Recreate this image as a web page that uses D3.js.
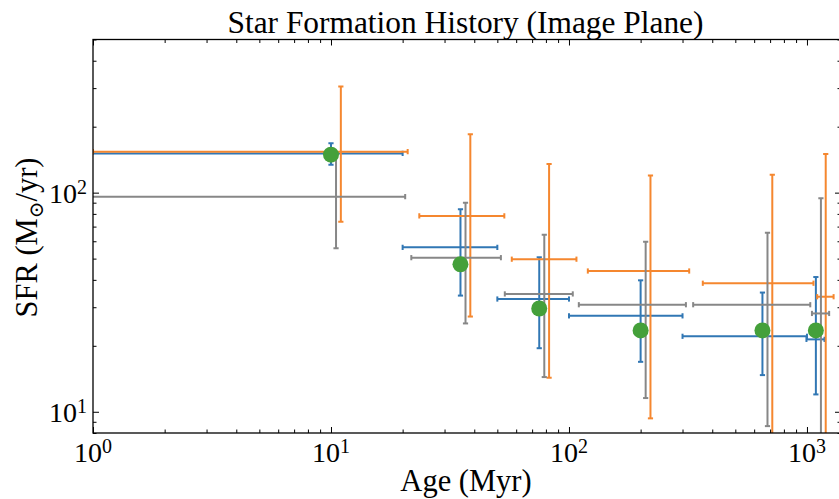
<!DOCTYPE html>
<html>
<head>
<meta charset="utf-8">
<script src="https://cdn.jsdelivr.net/npm/d3@7"></script>
<style>
  html, body { margin: 0; padding: 0; background: #fff; }
  svg { display: block; }
  text { font-family: "Liberation Serif", "Times New Roman", serif; fill: #000; }
</style>
</head>
<body>
<svg id="chart" width="839" height="499"></svg>
<script>
// Age bins (Myr): centre and half-width of each bin
const ages = [10, 35, 75, 200, 650, 1090];
const ageHalfWidths = [10, 15, 25, 100, 350, 95];

// Run A (blue): SFR with lower / upper bounds, M_sun/yr
const sfrA = [151, 56.3, 32.7, 27.4, 22.1, 21.4];
const sfrALow = [134, 33.9, 19.5, 16.9, 14.7, 12.0];
const sfrAHigh = [168, 84.0, 50.7, 39.8, 35.0, 41.2];

// Run B (orange)
const sfrB = [153.9, 78.3, 49.7, 43.9, 38.6, 33.5];
const sfrBLow = [73.7, 27.2, 14.3, 9.33, 4, 4];
const sfrBHigh = [304.8, 184.8, 135.2, 119.6, 120.8, 150.2];

// Run C (grey)
const sfrC = [95.9, 50.5, 34.5, 30.8, 30.8, 28.1];
const sfrCLow = [55.7, 25.3, 14.4, 11.55, 8.6, 4];
const sfrCHigh = [150, 90.0, 64.3, 59.7, 65.7, 94.3];

// Reference values (green points)
const sfrRef = [149, 47.1, 29.6, 23.5, 23.5, 23.5];

// Axis ticks
const xMajorTicks = [1, 10, 100, 1000];
const xTickExponents = ["0", "1", "2", "3"];
const yMajorTicks = [10, 100];
const yTickExponents = ["1", "2"];

const svg = d3.select("#chart");
const plotLeft = 93, plotRight = 841, plotTop = 39.5, plotBottom = 433;

const x = d3.scaleLog().domain([1, 1390]).range([plotLeft, plotRight]);
const y = d3.scaleLog().domain([8, 500]).range([plotBottom, plotTop]);

svg.append("defs").append("clipPath").attr("id", "plotClip")
  .append("rect")
  .attr("x", plotLeft).attr("y", plotTop)
  .attr("width", plotRight - plotLeft).attr("height", plotBottom - plotTop);

const plot = svg.append("g").attr("clip-path", "url(#plotClip)");

const series = [
  { name: "A", color: "#3177b4", dodge: 1.0,  v: sfrA, lo: sfrALow, hi: sfrAHigh },
  { name: "B", color: "#f5872f", dodge: 1.1,  v: sfrB, lo: sfrBLow, hi: sfrBHigh },
  { name: "C", color: "#878787", dodge: 1.05, v: sfrC, lo: sfrCLow, hi: sfrCHigh }
];

const cap = 2.6;
const safeX = v => x(Math.max(v, 1e-3));

series.forEach(s => {
  const g = plot.append("g")
    .attr("stroke", s.color).attr("stroke-width", 2).attr("fill", "none");
  ages.forEach((a, i) => {
    const xc = a * s.dodge;
    const x0 = safeX(xc - ageHalfWidths[i]);
    const x1 = safeX(xc + ageHalfWidths[i]);
    const yv = y(s.v[i]);
    const yl = y(s.lo[i]);
    const yh = y(s.hi[i]);
    const px = x(xc);
    // horizontal (age) error bar with caps
    g.append("line").attr("x1", x0).attr("x2", x1).attr("y1", yv).attr("y2", yv);
    g.append("line").attr("x1", x0).attr("x2", x0).attr("y1", yv - cap).attr("y2", yv + cap);
    g.append("line").attr("x1", x1).attr("x2", x1).attr("y1", yv - cap).attr("y2", yv + cap);
    // vertical (SFR) error bar with caps
    g.append("line").attr("x1", px).attr("x2", px).attr("y1", yl).attr("y2", yh);
    g.append("line").attr("x1", px - cap).attr("x2", px + cap).attr("y1", yl).attr("y2", yl);
    g.append("line").attr("x1", px - cap).attr("x2", px + cap).attr("y1", yh).attr("y2", yh);
  });
});

plot.append("g").selectAll("circle")
  .data(ages.map((a, i) => ({ a, v: sfrRef[i] })))
  .join("circle")
  .attr("cx", d => x(d.a))
  .attr("cy", d => y(d.v))
  .attr("r", 8)
  .attr("fill", "#44a03a");

// Axes: inward ticks on all four sides
const isPow10 = v => Math.abs(Math.log10(v) - Math.round(Math.log10(v))) < 1e-9;
const xMinor = x.ticks().filter(v => !isPow10(v));
const yMinor = y.ticks().filter(v => !isPow10(v));

function styleAxis(g) {
  g.select(".domain").remove();
  g.selectAll("line").attr("stroke", "#000").attr("stroke-width", 1);
  g.selectAll("text").remove();
}

const majorLen = 6, minorLen = 3.5;

svg.append("g").attr("transform", `translate(0,${plotBottom})`)
  .call(d3.axisBottom(x).tickValues(xMajorTicks).tickSizeInner(-majorLen).tickSizeOuter(0)).call(styleAxis);
svg.append("g").attr("transform", `translate(0,${plotBottom})`)
  .call(d3.axisBottom(x).tickValues(xMinor).tickSizeInner(-minorLen).tickSizeOuter(0)).call(styleAxis);
svg.append("g").attr("transform", `translate(0,${plotTop})`)
  .call(d3.axisTop(x).tickValues(xMajorTicks).tickSizeInner(-majorLen).tickSizeOuter(0)).call(styleAxis);
svg.append("g").attr("transform", `translate(0,${plotTop})`)
  .call(d3.axisTop(x).tickValues(xMinor).tickSizeInner(-minorLen).tickSizeOuter(0)).call(styleAxis);
svg.append("g").attr("transform", `translate(${plotLeft},0)`)
  .call(d3.axisLeft(y).tickValues(yMajorTicks).tickSizeInner(-majorLen).tickSizeOuter(0)).call(styleAxis);
svg.append("g").attr("transform", `translate(${plotLeft},0)`)
  .call(d3.axisLeft(y).tickValues(yMinor).tickSizeInner(-minorLen).tickSizeOuter(0)).call(styleAxis);
svg.append("g").attr("transform", `translate(${plotRight},0)`)
  .call(d3.axisRight(y).tickValues(yMajorTicks).tickSizeInner(-majorLen).tickSizeOuter(0)).call(styleAxis);
svg.append("g").attr("transform", `translate(${plotRight},0)`)
  .call(d3.axisRight(y).tickValues(yMinor).tickSizeInner(-minorLen).tickSizeOuter(0)).call(styleAxis);

// Frame
svg.append("rect")
  .attr("x", plotLeft).attr("y", plotTop)
  .attr("width", plotRight - plotLeft).attr("height", plotBottom - plotTop)
  .attr("fill", "none").attr("stroke", "#000").attr("stroke-width", 1.3);

// Tick labels as powers of ten
const tickFont = 28, supFont = 20;
function powerLabel(sel, exp) {
  sel.append("tspan").text("10");
  sel.append("tspan").attr("dy", -9).attr("font-size", supFont).text(exp);
}
xMajorTicks.forEach((v, i) => {
  const t = svg.append("text")
    .attr("x", x(v)).attr("y", 461.5)
    .attr("text-anchor", "middle").attr("font-size", tickFont);
  powerLabel(t, xTickExponents[i]);
});
yMajorTicks.forEach((v, i) => {
  const t = svg.append("text")
    .attr("x", plotLeft - 6).attr("y", y(v) + 10)
    .attr("text-anchor", "end").attr("font-size", tickFont);
  powerLabel(t, yTickExponents[i]);
});

// Title and axis labels
svg.append("text")
  .attr("x", 465.5).attr("y", 33)
  .attr("text-anchor", "middle").attr("font-size", 31.4)
  .text("Star Formation History (Image Plane)");

svg.append("text")
  .attr("x", 466).attr("y", 491)
  .attr("text-anchor", "middle").attr("font-size", 30.5)
  .text("Age (Myr)");

const yLabel = svg.append("text")
  .attr("transform", "translate(37,237.5) rotate(-90)")
  .attr("text-anchor", "middle").attr("font-size", 30.5);
yLabel.append("tspan").text("SFR (M");
yLabel.append("tspan").attr("dy", 6).attr("font-size", 20)
  .style("font-family", "'DejaVu Serif', serif").text("\u2299");
yLabel.append("tspan").attr("dy", -6).text("/yr)");
</script>
</body>
</html>
